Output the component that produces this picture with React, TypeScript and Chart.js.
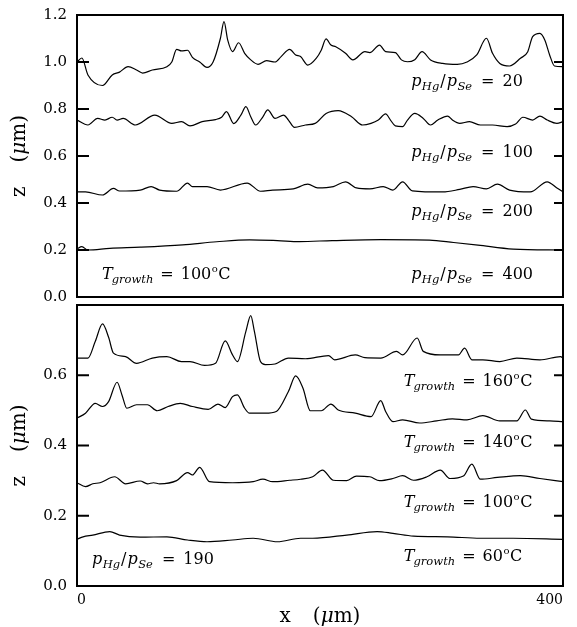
import React, { useEffect, useRef } from 'react';
import { Chart, registerables } from 'chart.js';

Chart.register(...registerables);

// ---------------- Upper panel: T_growth = 100 °C, varying p_Hg/p_Se ----------------
const xP20 = [0,4,9,21,29,35,42,49,54,62,74,78,82,86,91,95,101,107,112,118,121,124,128,133,138,143,149,156,163,168,175,180,184,190,197,201,205,209,213,221,227,237,241,249,254,262,267,272,278,284,291,301,313,321,329,337,342,348,356,365,371,375,381,385,389,393,400];
const zP20 = [1.0,1.017,0.945,0.90,0.945,0.957,0.98,0.966,0.953,0.966,0.98,1.0,1.054,1.047,1.05,1.02,1.0,0.977,1.0,1.10,1.172,1.094,1.044,1.082,1.037,1.009,0.99,1.006,1.0,1.023,1.054,1.03,1.023,0.987,1.016,1.05,1.098,1.072,1.065,1.037,1.009,1.044,1.04,1.072,1.044,1.04,1.009,1.001,1.01,1.044,1.009,0.994,0.99,1.0,1.03,1.101,1.037,0.994,0.983,1.016,1.044,1.108,1.122,1.094,1.03,0.983,0.98];

const xP100 = [0,9,17,23,29,33,38,48,64,78,86,93,103,114,119,123,129,135,139,143,147,153,157,163,170,174,179,188,196,205,215,226,235,242,248,254,258,262,268,272,278,285,291,297,305,309,315,323,332,342,354,361,367,375,381,387,395,400];
const zP100 = [0.753,0.732,0.76,0.753,0.765,0.753,0.76,0.732,0.774,0.739,0.746,0.728,0.746,0.755,0.765,0.789,0.738,0.775,0.81,0.767,0.732,0.767,0.796,0.76,0.774,0.753,0.722,0.732,0.739,0.781,0.793,0.767,0.732,0.739,0.753,0.779,0.753,0.728,0.725,0.753,0.781,0.76,0.732,0.753,0.77,0.753,0.739,0.746,0.732,0.732,0.725,0.736,0.765,0.753,0.77,0.753,0.739,0.746];

const xP200 = [0,7,21,30,35,52,61,68,82,91,95,107,118,140,151,161,178,190,198,211,221,230,241,252,260,268,276,301,315,326,337,346,356,373,387,395,400];
const zP200 = [0.447,0.447,0.434,0.462,0.451,0.455,0.47,0.455,0.45,0.485,0.47,0.47,0.455,0.485,0.45,0.455,0.46,0.48,0.464,0.47,0.49,0.464,0.46,0.47,0.455,0.49,0.452,0.447,0.458,0.47,0.46,0.48,0.455,0.447,0.49,0.464,0.447];

const xP400 = [0,4,9,27,52,87,115,142,165,183,210,250,290,310,330,359,400];
const zP400 = [0.204,0.214,0.2,0.207,0.212,0.222,0.235,0.243,0.24,0.236,0.24,0.244,0.242,0.232,0.221,0.204,0.2];

// ---------------- Lower panel: p_Hg/p_Se = 190, varying T_growth ----------------
const xT160 = [0,9,15,21,26,30,40,49,62,74,86,93,105,114,122,128,132,139,143,146,151,155,163,174,188,207,212,229,237,250,263,268,280,285,299,314,319,325,334,348,362,381,398,400];
const zT160 = [0.649,0.649,0.696,0.746,0.708,0.663,0.653,0.634,0.649,0.653,0.639,0.639,0.628,0.634,0.698,0.658,0.639,0.725,0.77,0.725,0.639,0.63,0.632,0.649,0.647,0.656,0.644,0.658,0.65,0.649,0.668,0.658,0.706,0.668,0.658,0.658,0.677,0.644,0.644,0.639,0.649,0.644,0.653,0.649];

const xT140 = [0,7,15,21,26,33,37,41,49,58,66,75,85,95,108,116,122,128,132,138,142,155,164,174,180,186,192,201,209,215,229,242,250,254,260,268,282,296,309,321,334,348,362,369,374,389,400];
const zT140 = [0.478,0.492,0.52,0.511,0.525,0.58,0.544,0.506,0.516,0.516,0.499,0.511,0.52,0.511,0.503,0.518,0.508,0.539,0.544,0.506,0.492,0.492,0.497,0.554,0.598,0.563,0.499,0.499,0.518,0.501,0.492,0.482,0.528,0.497,0.468,0.473,0.464,0.47,0.476,0.473,0.485,0.47,0.47,0.501,0.475,0.47,0.468];

const xT100 = [0,7,13,19,31,40,52,58,63,68,82,91,95,101,109,128,145,153,161,175,184,194,202,211,222,230,241,249,260,268,277,288,299,307,318,325,332,346,365,381,400];
const zT100 = [0.294,0.283,0.291,0.294,0.311,0.291,0.299,0.291,0.294,0.291,0.3,0.323,0.316,0.338,0.297,0.294,0.297,0.304,0.297,0.301,0.304,0.311,0.33,0.301,0.3,0.313,0.311,0.3,0.306,0.314,0.301,0.311,0.33,0.306,0.313,0.347,0.304,0.309,0.314,0.306,0.297];

const xT60 = [0,5,13,27,35,52,74,91,107,128,145,165,184,194,222,247,260,277,305,332,359,400];
const zT60 = [0.133,0.14,0.145,0.155,0.145,0.139,0.14,0.131,0.126,0.131,0.136,0.126,0.136,0.136,0.145,0.155,0.15,0.142,0.14,0.136,0.136,0.133];

// ---------------- Axes / labels ----------------
const xTickValues = [0, 400];
const yTicksTop = [0, 0.2, 0.4, 0.6, 0.8, 1.0, 1.2];
const yTicksBottom = [0, 0.2, 0.4, 0.6];
const innerTicksTop = [0.2, 0.4, 0.6, 0.8, 1.0];
const innerTicksBottom = [0.2, 0.4, 0.6];
const ratioValuesTop = ['20', '100', '200', '400'];
const tempValuesBottom = ['160', '140', '100', '60'];

const SERIF = '"DejaVu Serif", "Liberation Serif", serif';
const RM = `16px ${SERIF}`;
const IT = `italic 16px ${SERIF}`;
const SUB = `italic 11.5px ${SERIF}`;
const SUP = `10px ${SERIF}`;
const TRM = `20px ${SERIF}`;
const TIT = `italic 20px ${SERIF}`;

type Part = { t: string; f: string; dy?: number; gap?: number };

const ratioParts = (n: string): Part[] => [
  { t: 'p', f: IT },
  { t: 'Hg', f: SUB, dy: 4, gap: 0.5 },
  { t: '/', f: RM, gap: 1 },
  { t: 'p', f: IT, gap: 1 },
  { t: 'Se', f: SUB, dy: 4, gap: 0.5 },
  { t: '=', f: RM, gap: 9 },
  { t: n, f: RM, gap: 8 },
];
const tempParts = (n: string): Part[] => [
  { t: 'T', f: IT },
  { t: 'growth', f: SUB, dy: 4, gap: -1 },
  { t: '=', f: RM, gap: 7 },
  { t: n, f: RM, gap: 7 },
  { t: 'o', f: SUP, dy: -7, gap: 0.5 },
  { t: 'C', f: RM, gap: 0.5 },
];
const zTitleParts: Part[] = [
  { t: 'z', f: TRM },
  { t: '(', f: TRM, gap: 24 },
  { t: 'μ', f: TIT },
  { t: 'm)', f: TRM },
];
const xTitleParts: Part[] = [
  { t: 'x', f: TRM },
  { t: '(', f: TRM, gap: 22 },
  { t: 'μ', f: TIT },
  { t: 'm)', f: TRM },
];

function drawRich(ctx: CanvasRenderingContext2D, parts: Part[], x: number, y: number, align: 'left' | 'center') {
  const widths = parts.map((p) => {
    ctx.font = p.f;
    return ctx.measureText(p.t).width;
  });
  const total = parts.reduce((s, p, i) => s + (p.gap || 0) + widths[i], 0);
  let cx = align === 'center' ? x - total / 2 : x;
  parts.forEach((p, i) => {
    cx += p.gap || 0;
    ctx.font = p.f;
    ctx.fillText(p.t, cx, y + (p.dy || 0));
    cx += widths[i];
  });
}

const panelPlugin = {
  id: 'panel',
  afterDatasetsDraw(chart: any, _args: any, opts: any) {
    const { ctx, chartArea: a, scales } = chart;
    const xs = scales.x;
    const ys = scales.y;
    ctx.save();
    ctx.strokeStyle = '#000';
    ctx.lineWidth = 2;
    ctx.strokeRect(a.left, a.top, a.right - a.left, a.bottom - a.top);
    ctx.beginPath();
    (opts.leftTicks || []).forEach((v: number) => {
      const py = ys.getPixelForValue(v);
      ctx.moveTo(a.left, py);
      ctx.lineTo(a.left + 12, py);
    });
    (opts.rightTicks || []).forEach((v: number) => {
      const py = ys.getPixelForValue(v);
      ctx.moveTo(a.right, py);
      ctx.lineTo(a.right - 9, py);
    });
    ctx.stroke();

    ctx.fillStyle = '#000';
    ctx.textBaseline = 'alphabetic';
    (opts.labels || []).forEach((l: any) => {
      drawRich(ctx, l.parts, xs.getPixelForValue(l.x), ys.getPixelForValue(l.y), 'left');
    });
    if (opts.xTitle) {
      drawRich(ctx, xTitleParts, (a.left + a.right) / 2, a.bottom + 36, 'center');
    }
    ctx.translate(20, (a.top + a.bottom) / 2);
    ctx.rotate(-Math.PI / 2);
    ctx.textBaseline = 'middle';
    drawRich(ctx, zTitleParts, 0, 0, 'center');
    ctx.restore();
  },
};

function makeDatasets(xs: number[][], zs: number[][]) {
  return xs.map((xa, k) => ({
    data: xa.map((x, i) => ({ x, y: zs[k][i] })),
    borderColor: '#000',
    borderWidth: 1.2,
    pointRadius: 0,
    fill: false,
    cubicInterpolationMode: 'monotone' as const,
  }));
}

function makeConfig(p: {
  xs: number[][];
  zs: number[][];
  ymax: number;
  yTicks: number[];
  inner: number[];
  showX: boolean;
  padBottom: number;
  labels: any[];
}): any {
  return {
    type: 'line',
    data: { datasets: makeDatasets(p.xs, p.zs) },
    plugins: [panelPlugin],
    options: {
      animation: false,
      responsive: false,
      maintainAspectRatio: false,
      layout: { padding: { top: 15, right: 14, bottom: p.padBottom, left: 0 } },
      plugins: {
        legend: { display: false },
        tooltip: { enabled: false },
        panel: {
          leftTicks: p.inner,
          rightTicks: p.inner,
          labels: p.labels,
          xTitle: p.showX,
        },
      },
      scales: {
        x: {
          type: 'linear',
          min: 0,
          max: 400,
          display: p.showX,
          afterBuildTicks: (s: any) => {
            s.ticks = xTickValues.map((v) => ({ value: v }));
          },
          afterFit: (s: any) => {
            s.height = p.showX ? 41 : 0;
            s.paddingLeft = 0;
            s.paddingRight = 0;
          },
          ticks: {
            color: '#000',
            font: { family: SERIF, size: 14 },
            padding: 6,
            align: 'inner',
            maxRotation: 0,
            autoSkip: false,
            callback: (v: number) => String(v),
          },
          grid: { display: false, drawTicks: false },
          border: { display: false },
        },
        y: {
          type: 'linear',
          min: 0,
          max: p.ymax,
          afterBuildTicks: (s: any) => {
            s.ticks = p.yTicks.map((v) => ({ value: v }));
          },
          afterFit: (s: any) => {
            s.width = 77;
            s.paddingTop = 0;
            s.paddingBottom = 0;
          },
          ticks: {
            color: '#000',
            font: { family: SERIF, size: 15 },
            padding: 10,
            autoSkip: false,
            callback: (v: number) => Number(v).toFixed(1),
          },
          grid: { display: false, drawTicks: false },
          border: { display: false },
        },
      },
    },
  };
}

export default function App() {
  const topRef = useRef<HTMLCanvasElement>(null);
  const botRef = useRef<HTMLCanvasElement>(null);

  useEffect(() => {
    const topLabels = [
      { x: 275, y: 0.898, parts: ratioParts(ratioValuesTop[0]) },
      { x: 275, y: 0.597, parts: ratioParts(ratioValuesTop[1]) },
      { x: 275, y: 0.345, parts: ratioParts(ratioValuesTop[2]) },
      { x: 275, y: 0.077, parts: ratioParts(ratioValuesTop[3]) },
      { x: 20.6, y: 0.077, parts: tempParts('100') },
    ];
    const bottomLabels = [
      { x: 269, y: 0.568, parts: tempParts(tempValuesBottom[0]) },
      { x: 269, y: 0.397, parts: tempParts(tempValuesBottom[1]) },
      { x: 269, y: 0.226, parts: tempParts(tempValuesBottom[2]) },
      { x: 269, y: 0.072, parts: tempParts(tempValuesBottom[3]) },
      { x: 12.3, y: 0.063, parts: ratioParts('190') },
    ];
    const top = new Chart(
      topRef.current!,
      makeConfig({
        xs: [xP20, xP100, xP200, xP400],
        zs: [zP20, zP100, zP200, zP400],
        ymax: 1.2,
        yTicks: yTicksTop,
        inner: innerTicksTop,
        showX: false,
        padBottom: 23,
        labels: topLabels,
      })
    );
    const bottom = new Chart(
      botRef.current!,
      makeConfig({
        xs: [xT160, xT140, xT100, xT60],
        zs: [zT160, zT140, zT100, zT60],
        ymax: 0.8,
        yTicks: yTicksBottom,
        inner: innerTicksBottom,
        showX: true,
        padBottom: 0,
        labels: bottomLabels,
      })
    );
    return () => {
      top.destroy();
      bottom.destroy();
    };
  }, []);

  return (
    <div style={{ position: 'absolute', left: 0, top: 0, width: 577, height: 627, background: '#fff' }}>
      <canvas
        ref={topRef}
        width={577}
        height={320}
        style={{ position: 'absolute', left: 0, top: 0, width: 577, height: 320 }}
      />
      <canvas
        ref={botRef}
        width={577}
        height={337}
        style={{ position: 'absolute', left: 0, top: 290, width: 577, height: 337 }}
      />
    </div>
  );
}
